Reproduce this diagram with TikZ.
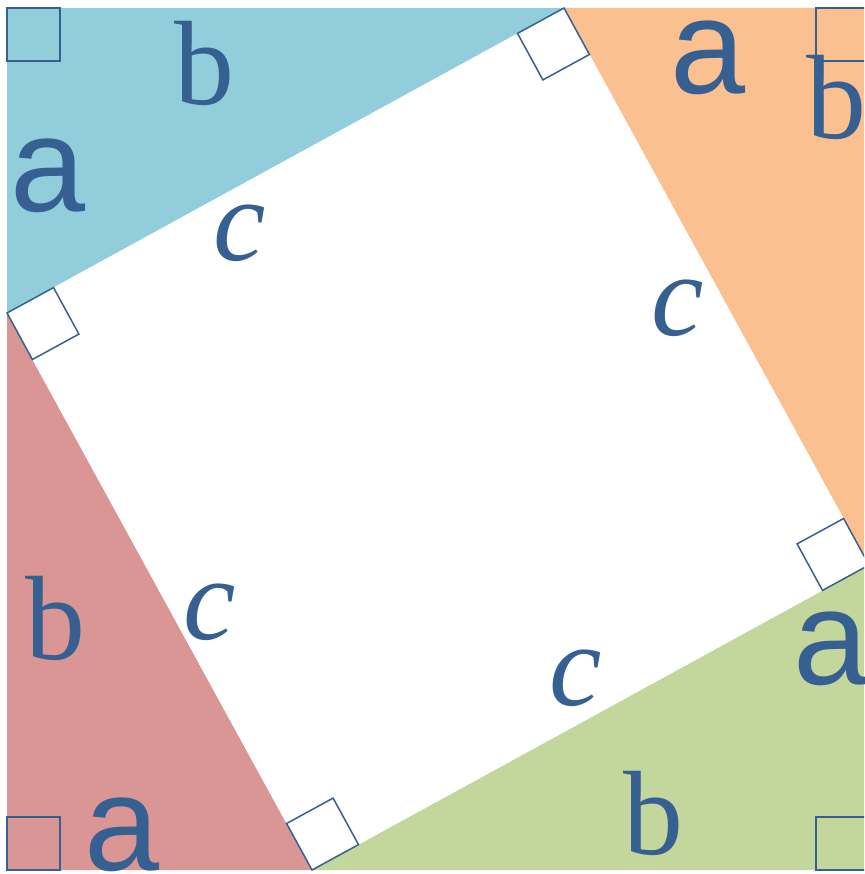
\documentclass[tikz,border=0pt]{standalone}
\usepackage{fontspec}
\setmainfont{Liberation Serif}
\newfontfamily\sansA{Liberation Sans}
\usetikzlibrary{calc}
\definecolor{tblue}{HTML}{92CDDC}
\definecolor{torange}{HTML}{FAC090}
\definecolor{tred}{HTML}{D99694}
\definecolor{tgreen}{HTML}{C3D69B}
\definecolor{txt}{HTML}{376092}
\begin{document}
\begin{tikzpicture}[x=1pt,y=-1pt,
  lblA/.style={anchor=base,inner sep=0pt,text=txt,font=\sansA\fontsize{135}{135}\selectfont},
  lblB/.style={anchor=base,inner sep=0pt,text=txt,font=\fontsize{120}{120}\selectfont},
  lblC/.style={anchor=base,inner sep=0pt,text=txt,font=\itshape\fontsize{118}{118}\selectfont},
  marker/.style={draw=txt,line width=1.5pt,fill=white,line join=miter},
  cornermark/.style={draw=txt,line width=1.6pt}]
\useasboundingbox (0,0) rectangle (864,874);
\clip (0,0) rectangle (864,874);
% outer corners
\coordinate (C1) at (7,8);
\coordinate (C2) at (869,8);
\coordinate (C3) at (869,870);
\coordinate (C4) at (7,870);
% inner square vertices
\coordinate (T) at (564,8);
\coordinate (L) at (7,313);
\coordinate (B) at (312,870);
\coordinate (R) at (869,565);
% triangles
\fill[tblue] (C1) -- (T) -- (L) -- cycle;
\fill[torange] (T) -- (C2) -- (R) -- cycle;
\fill[tgreen] (R) -- (C3) -- (B) -- cycle;
\fill[tred] (L) -- (B) -- (C4) -- cycle;
\fill[white] (T) -- (R) -- (B) -- (L) -- cycle;
% corner right-angle marks
\draw[cornermark] (C1) rectangle ++(53,53);
\draw[cornermark] (C2) rectangle ++(-53,53);
\draw[cornermark] (C3) rectangle ++(-53,-53);
\draw[cornermark] (C4) rectangle ++(53,-53);
% inner right-angle marks
\draw[marker] (T) -- ++(-46.5,25.4) -- ++(25.4,46.5) -- ++(46.5,-25.4) -- cycle;
\draw[marker] (L) -- ++(46.5,-25.4) -- ++(25.4,46.5) -- ++(-46.5,25.4) -- cycle;
\draw[marker] (B) -- ++(-25.4,-46.5) -- ++(46.5,-25.4) -- ++(25.4,46.5) -- cycle;
\draw[marker] (R) -- ++(-46.5,25.4) -- ++(-25.4,-46.5) -- ++(46.5,-25.4) -- cycle;
% labels
\node[lblB] (b1) at (204,105) {b};
\node[lblA] (a1) at (48,212) {a};
\node[lblC] (c1) at (240,261) {c};
\node[lblA] (a2) at (708,94) {a};
\node[lblB] (b2) at (836,139) {b};
\node[lblC] (c2) at (678,335) {c};
\node[lblB] (b3) at (55,659) {b};
\node[lblC] (c3) at (210,639) {c};
\node[lblA] (a3) at (122,870) {a};
\node[lblC] (c4) at (576,705) {c};
\node[lblB] (b4) at (653,854) {b};
\node[lblA] (a4) at (831,684) {a};
\end{tikzpicture}
\end{document}
